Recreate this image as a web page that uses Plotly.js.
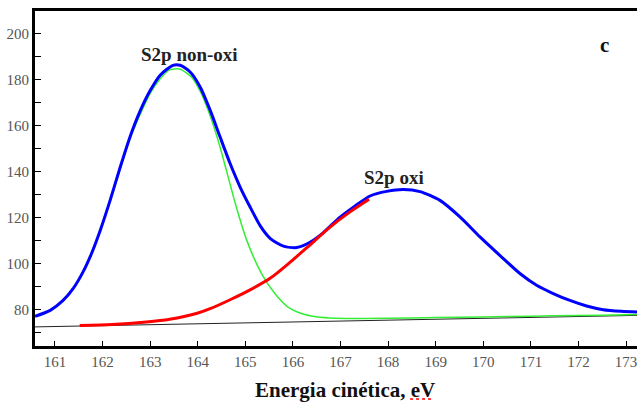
<!DOCTYPE html>
<html>
<head>
<meta charset="utf-8">
<script src="https://cdn.plot.ly/plotly-3.0.1.min.js"></script>
<style>html,body{margin:0;padding:0;background:#fff;}#chart{width:637px;height:403px;}</style>
</head>
<body>
<div id="chart"></div>
<script>
// Envelope (total fit)
const envE = [160.58,160.90,161.17,161.38,161.59,161.77,161.95,162.16,162.37,162.58,162.79,163.00,163.21,163.48,163.63,163.84,164.05,164.26,164.47,164.68,164.89,165.10,165.31,165.52,165.80,166.08,166.36,166.64,166.78,166.99,167.30,167.62,167.97,168.32,168.67,169.09,169.51,169.93,170.42,170.77,171.12,171.47,171.82,172.17,172.52,172.90,173.23];
const envI = [77.1,79.7,84.0,89.1,96.4,104.5,114.4,127.6,141.9,155.3,166.4,175.2,181.9,186.2,186.2,183.3,176.8,166.7,155.0,143.5,133.3,124.6,116.5,111.0,107.6,107.0,109.3,113.5,116.2,120.2,125.0,129.4,131.4,132.2,131.3,127.5,120.3,111.6,102.2,95.7,90.6,87.0,84.0,81.6,80.0,79.3,79.0];
// S2p non-oxi component
const nonE = [161.52,161.77,162.16,162.58,163.00,163.21,163.41,163.63,163.87,164.05,164.24,164.45,164.62,164.81,165.03,165.34,165.62,165.89,166.18,166.52,166.90,167.50,168.50,169.50,170.50,171.50,172.50,173.23];
const nonI = [93.4,104.2,127.2,154.5,174.0,180.4,184.2,184.5,181.0,175.0,165.5,152.0,139.1,124.6,110.1,95.7,87.0,81.2,78.3,76.8,76.3,76.2,76.4,76.7,77.0,77.3,77.6,77.9];
// S2p oxi component
const oxiE = [161.52,162.20,162.92,163.41,163.97,164.26,164.68,165.10,165.52,165.93,166.36,166.78,167.20,167.60];
const oxiI = [73.1,73.5,74.6,75.8,78.3,80.4,84.3,88.6,93.6,100.4,108.2,115.9,122.5,128.0];
// Background
const bgE = [160.58,163.0,166.0,169.0,172.0,173.23];
const bgI = [72.5,73.4,74.6,75.8,77.0,77.5];
const yTicks = [80,100,120,140,160,180,200];
const yLabels = ['80','100','120','140','160','180','200'];

const traces = [
  {x:bgE,y:bgI,mode:'lines',line:{color:'#222',width:1},hoverinfo:'skip'},
  {x:nonE,y:nonI,mode:'lines',line:{color:'#33ee33',width:1.5,shape:'spline',smoothing:0.7},hoverinfo:'skip'},
  {x:envE,y:envI,mode:'lines',line:{color:'#0000ff',width:3,shape:'spline',smoothing:0.7},hoverinfo:'skip'},
  {x:oxiE,y:oxiI,mode:'lines',line:{color:'#ff0000',width:3,shape:'spline',smoothing:0.7},hoverinfo:'skip'}
];
const serif = '"Liberation Serif", "Times New Roman", serif';
const layout = {
  width:637,height:403,
  margin:{l:35,r:0,t:11,b:57},
  paper_bgcolor:'#fff',plot_bgcolor:'#fff',
  showlegend:false,
  font:{family:serif,color:'#444',size:15},
  xaxis:{range:[160.58,173.23],tick0:161,dtick:1,ticks:'inside',ticklen:5,tickwidth:1,tickcolor:'#000',
    showline:true,linewidth:3,linecolor:'#000',mirror:true,showgrid:false,zeroline:false,
    ticklabeloverflow:'allow',
    tickfont:{family:serif,size:15,color:'#555'}},
  yaxis:{range:[64.2,209.8],tickvals:yTicks,ticktext:yLabels,ticks:'inside',ticklen:6,tickwidth:1,tickcolor:'#000',
    minor:{dtick:10,tick0:0,ticks:'inside',ticklen:6,tickwidth:1,tickcolor:'#000'},
    showline:true,linewidth:3,linecolor:'#000',showgrid:false,zeroline:false,
    tickfont:{family:serif,size:15,color:'#555'}},
  shapes:[
    {type:'line',xref:'paper',yref:'paper',x0:0.623,x1:0.661,y0:-0.158,y1:-0.158,line:{color:'#ff0000',width:1.5,dash:'dot'}}
  ],
  annotations:[
    {x:163.83,y:191,xref:'x',yref:'y',text:'<b>S2p non-oxi</b>',showarrow:false,font:{family:serif,size:19,color:'#222'}},
    {x:168.13,y:137.5,xref:'x',yref:'y',text:'<b>S2p oxi</b>',showarrow:false,font:{family:serif,size:19,color:'#222'}},
    {x:172.54,y:195,xref:'x',yref:'y',text:'<b>c</b>',showarrow:false,font:{family:serif,size:21,color:'#111'}},
    {x:0.515,y:-0.131,xref:'paper',yref:'paper',text:'<b>Energia cinética, eV</b>',showarrow:false,xanchor:'center',yanchor:'middle',font:{family:serif,size:21,color:'#111'}}
  ]
};
Plotly.newPlot('chart',traces,layout,{displayModeBar:false,staticPlot:true});
</script>
</body>
</html>
